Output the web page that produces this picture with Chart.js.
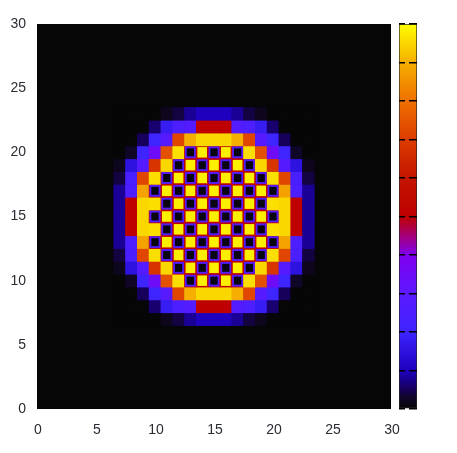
<!DOCTYPE html>
<html>
<head>
<meta charset="utf-8">
<style>
  html, body { margin: 0; background: #fff; }
  canvas { position: absolute; left: 0; top: 0; filter: blur(0.7px); }
</style>
<script src="https://cdn.jsdelivr.net/npm/chart.js@4"></script>
</head>
<body>
<canvas id="heatChart" width="457" height="453"></canvas>
<canvas id="barChart" width="457" height="453"></canvas>
<script>
const axisTicks = [0, 5, 10, 15, 20, 25, 30];
const barTicks = [0, 0.1, 0.2, 0.3, 0.4, 0.5, 0.6, 0.7, 0.8, 0.9, 1];

// valores, colunas x = 7..23
const firstColumn = 7;
const rowValues = {
  23: [0, 0, 0, 0, .02, .04, .08, .1, .1, .1, .08, .04, .02, 0, 0, 0, 0],
  22: [0, 0, 0, .06, .18, .25, .27, .5, .5, .5, .27, .25, .18, .06, 0, 0, 0],
  21: [0, 0, .05, .2, .28, .72, .9, .95, .95, .95, .9, .72, .28, .2, .05, 0, 0],
  20: [0, .03, .2, .35, .74, .96, .5, .5, .5, .5, .5, .96, .74, .35, .2, .03, 0],
  19: [.02, .15, .28, .68, .95, .5, .5, .5, .5, .5, .5, .5, .95, .68, .28, .15, .02],
  18: [.04, .24, .72, .96, .5, .5, .5, .5, .5, .5, .5, .5, .5, .96, .72, .24, .04],
  17: [.08, .25, .88, .5, .5, .5, .5, .5, .5, .5, .5, .5, .5, .5, .88, .25, .08],
  16: [.08, .5, .95, .96, .5, .5, .5, .5, .5, .5, .5, .5, .5, .96, .95, .5, .08],
  15: [.08, .5, .95, .5, .5, .5, .5, .5, .5, .5, .5, .5, .5, .5, .95, .5, .08],
  14: [.08, .5, .95, .96, .5, .5, .5, .5, .5, .5, .5, .5, .5, .96, .95, .5, .08],
  13: [.08, .25, .88, .5, .5, .5, .5, .5, .5, .5, .5, .5, .5, .5, .88, .25, .08],
  12: [.04, .24, .72, .96, .5, .5, .5, .5, .5, .5, .5, .5, .5, .96, .72, .24, .04],
  11: [.02, .15, .28, .68, .95, .5, .5, .5, .5, .5, .5, .5, .95, .68, .28, .15, .02],
  10: [0, .03, .2, .35, .74, .96, .5, .5, .5, .5, .5, .96, .74, .35, .2, .03, 0],
  9: [0, 0, .05, .2, .28, .72, .9, .95, .95, .95, .9, .72, .28, .2, .05, 0, 0],
  8: [0, 0, 0, .06, .18, .25, .27, .5, .5, .5, .27, .25, .18, .06, 0, 0, 0],
  7: [0, 0, 0, 0, .02, .04, .08, .1, .1, .1, .08, .04, .02, 0, 0, 0, 0]
};

// buracos (valor ~0) e picos (valor ~1) do padrao xadrez
const holeColumns = {
  20: [13, 15, 17],
  19: [12, 14, 16, 18],
  18: [11, 13, 15, 17, 19],
  17: [10, 12, 14, 16, 18, 20],
  16: [11, 13, 15, 17, 19],
  15: [10, 12, 14, 16, 18, 20],
  14: [11, 13, 15, 17, 19],
  13: [10, 12, 14, 16, 18, 20],
  12: [11, 13, 15, 17, 19],
  11: [12, 14, 16, 18],
  10: [13, 15, 17]
};
const peakColumns = {
  20: [14, 16],
  19: [13, 15, 17],
  18: [12, 14, 16, 18],
  17: [11, 13, 15, 17, 19],
  16: [12, 14, 16, 18],
  15: [11, 13, 15, 17, 19],
  14: [12, 14, 16, 18],
  13: [11, 13, 15, 17, 19],
  12: [12, 14, 16, 18],
  11: [13, 15, 17],
  10: [14, 16]
};
const holeValue = 0.01;
const ringValue = 0.27;
const peakValue = 0.98;

// escala de cores, de baixo para cima
const colorStops = [
  [0, [6, 6, 6]],
  [0.03, [16, 6, 40]],
  [0.05, [22, 0, 90]],
  [0.1, [30, 0, 190]],
  [0.2, [62, 36, 255]],
  [0.3, [92, 24, 255]],
  [0.4, [128, 0, 240]],
  [0.45, [165, 0, 120]],
  [0.5, [190, 0, 0]],
  [0.6, [195, 20, 0]],
  [0.7, [220, 60, 0]],
  [0.8, [238, 112, 0]],
  [0.9, [246, 175, 0]],
  [1, [255, 255, 0]]
];

function colorOf(v) {
  let i = 1;
  while (i < colorStops.length - 1 && v > colorStops[i][0]) i++;
  const [a, ca] = colorStops[i - 1];
  const [b, cb] = colorStops[i];
  const t = (v - a) / (b - a);
  const c = ca.map((p, k) => Math.round(p + (cb[k] - p) * t));
  return `rgb(${c[0]}, ${c[1]}, ${c[2]})`;
}

function makeCell(x, y, v, size) {
  return { x: x, y: [y - size / 2, y + size / 2], v: v };
}

function cellsFromColumns(columns, v, size) {
  const cells = [];
  for (const y in columns) {
    columns[y].forEach(x => cells.push(makeCell(x, Number(y), v, size)));
  }
  return cells;
}

const baseCells = [];
for (const y in rowValues) {
  rowValues[y].forEach((v, i) => baseCells.push(makeCell(firstColumn + i, Number(y), v, 1)));
}

function layer(cells, size, order) {
  return {
    data: cells,
    order: order,
    grouped: false,
    barPercentage: size,
    categoryPercentage: 1,
    backgroundColor: ctx => colorOf(ctx.raw ? ctx.raw.v : 0)
  };
}

const tickFont = { family: '"Liberation Sans", Arial, sans-serif', size: 14 };
const tickColor = '#2a2c34';

const plotBackground = {
  id: 'plotBackground',
  beforeDatasetsDraw(chart) {
    const { ctx, chartArea: a } = chart;
    ctx.fillStyle = colorOf(0);
    ctx.fillRect(a.left, a.top, a.right - a.left, a.bottom - a.top);
  }
};

new Chart(document.getElementById('heatChart').getContext('2d'), {
  type: 'bar',
  data: {
    datasets: [
      layer(cellsFromColumns(holeColumns, holeValue, 0.62), 0.62, 0),
      layer(cellsFromColumns(holeColumns, ringValue, 0.92), 0.92, 1),
      layer(cellsFromColumns(peakColumns, peakValue, 0.82), 0.82, 2),
      layer(baseCells, 1, 3)
    ]
  },
  plugins: [plotBackground],
  options: {
    responsive: false,
    animation: false,
    layout: { padding: { left: 0, top: 24, right: 66, bottom: 14 } },
    plugins: { legend: { display: false }, tooltip: { enabled: false } },
    scales: {
      x: {
        type: 'linear',
        offset: false,
        min: 0,
        max: 30,
        grid: { display: false, drawTicks: false },
        border: { display: false },
        afterBuildTicks: axis => { axis.ticks = axisTicks.map(v => ({ value: v })); },
        afterFit: axis => { axis.height = 30; },
        ticks: { font: tickFont, color: tickColor, padding: 13, maxRotation: 0, autoSkip: false, labelOffset: 1 }
      },
      y: {
        min: 0,
        max: 30,
        grid: { display: false, drawTicks: false },
        border: { display: false },
        afterBuildTicks: axis => { axis.ticks = axisTicks.map(v => ({ value: v })); },
        afterFit: axis => { axis.width = 37; },
        ticks: { font: tickFont, color: tickColor, padding: 11, autoSkip: false }
      }
    }
  }
});

new Chart(document.getElementById('barChart').getContext('2d'), {
  type: 'bar',
  data: {
    labels: ['cbrange'],
    datasets: [{
      data: [[barTicks[0], barTicks[barTicks.length - 1]]],
      barPercentage: 1,
      categoryPercentage: 1,
      borderWidth: 1,
      borderColor: '#2a2a2a',
      borderSkipped: false,
      backgroundColor: ctx => {
        const { ctx: c, chartArea: a, scales } = ctx.chart;
        if (!a) return colorOf(0);
        // gradiente ao longo do eixo y
        const gradient = c.createLinearGradient(0, scales.y.getPixelForValue(0), 0, scales.y.getPixelForValue(1));
        colorStops.forEach(s => gradient.addColorStop(s[0], colorOf(s[0])));
        return gradient;
      }
    }]
  },
  options: {
    responsive: false,
    animation: false,
    layout: { padding: { left: 399, top: 24, right: 40, bottom: 44 } },
    plugins: { legend: { display: false }, tooltip: { enabled: false } },
    scales: {
      x: { display: false, offset: true, grid: { offset: true } },
      y: {
        position: 'right',
        min: 0,
        max: 1,
        grid: { z: 1, color: '#000', lineWidth: 1.5, drawTicks: false },
        border: { display: false, dash: [6, 4, 8] },
        afterBuildTicks: axis => { axis.ticks = barTicks.map(v => ({ value: v })); },
        afterFit: axis => { axis.width = 0; },
        ticks: {
          font: tickFont,
          color: tickColor,
          padding: 13,
          autoSkip: false,
          callback: v => String(+v.toFixed(1))
        }
      }
    }
  }
});
</script>
</body>
</html>
